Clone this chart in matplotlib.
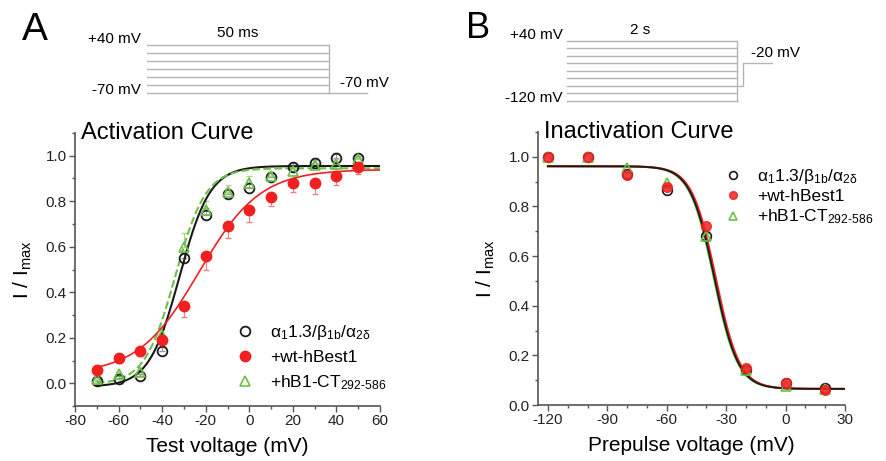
import numpy as np
import matplotlib
matplotlib.use("Agg")
import matplotlib.pyplot as plt
from matplotlib.ticker import MultipleLocator

plt.rcParams['font.family'] = ['Liberation Sans', 'DejaVu Sans']
plt.rcParams['mathtext.fontset'] = 'custom'
plt.rcParams['mathtext.rm'] = 'Liberation Sans'
plt.rcParams['mathtext.it'] = 'Liberation Sans:italic'
plt.rcParams['mathtext.bf'] = 'Liberation Sans:bold'
plt.rcParams['axes.unicode_minus'] = False

# ---- Activation data (panel A) ----
act_v = [-70, -60, -50, -40, -30, -20, -10, 0, 10, 20, 30, 40, 50]
act_ctrl = [0.01, 0.02, 0.03, 0.14, 0.55, 0.74, 0.83, 0.86, 0.905, 0.95, 0.97, 0.99, 0.99]
act_best = [0.06, 0.11, 0.14, 0.19, 0.34, 0.56, 0.69, 0.76, 0.82, 0.88, 0.88, 0.91, 0.95]
act_ct = [0.02, 0.04, 0.05, 0.21, 0.60, 0.76, 0.84, 0.88, 0.91, 0.935, 0.96, 0.965, 0.985]
act_ctrl_err = [0.01, 0.01, 0.01, 0.02, 0.03, 0.03, 0.02, 0.02, 0.02, 0.02, 0.02, 0.02, 0.01]
act_best_err = [0.01, 0.02, 0.02, 0.03, 0.05, 0.06, 0.05, 0.05, 0.04, 0.04, 0.05, 0.04, 0.03]
act_ct_err = [0.01, 0.01, 0.01, 0.03, 0.06, 0.04, 0.03, 0.03, 0.02, 0.02, 0.02, 0.02, 0.01]

# Boltzmann fit parameters: bottom, top, V1/2, slope
act_fit_ctrl = [-0.015, 0.955, -32.0, 7.0]
act_fit_best = [0.04, 0.94, -23.0, 14.0]
act_fit_ct = [-0.005, 0.945, -34.0, 7.0]

# ---- Inactivation data (panel B) ----
inact_v = [-120, -100, -80, -60, -40, -20, 0, 20]
inact_ctrl = [1.0, 1.0, 0.93, 0.865, 0.68, 0.14, 0.09, 0.07]
inact_best = [1.0, 1.0, 0.925, 0.88, 0.72, 0.15, 0.09, 0.06]
inact_ct = [1.0, 1.0, 0.955, 0.895, 0.68, 0.14, 0.075, 0.065]

inact_fit_ctrl = [0.065, 0.962, -36.0, 6.0]
inact_fit_best = [0.065, 0.962, -35.3, 6.0]
inact_fit_ct = [0.065, 0.962, -36.3, 6.0]

# ---- Voltage protocols (schematic) ----
protA_levels = [40, 22, 3, -15, -33, -52, -70]
protA_hold = -70
protA_dur = 50
protA_end = 60.4

protB_levels = [40, 20, 0, -20, -40, -60, -80, -100, -120]
protB_dur = 2.0
protB_test = -20
protB_step = 2.07
protB_end = 2.41

labels = [r'$\mathregular{\alpha_1}$1.3/$\mathregular{\beta_{1b}}$/$\mathregular{\alpha_{2\delta}}$',
          '+wt-hBest1',
          r'+hB1-CT$_{\mathregular{292‐586}}$']

BLACK = '#1a1a1a'
RED = '#f02020'
GREEN = '#6cc04a'
AXC = '#555555'
PROT = '#b5b5b5'


def act_curve(v, p):
    b, t, vh, k = p
    return b + (t - b) / (1 + np.exp((vh - v) / k))


def inact_curve(v, p):
    b, t, vh, k = p
    return b + (t - b) / (1 + np.exp((v - vh) / k))


def style_axes(ax):
    for s in ['top', 'right']:
        ax.spines[s].set_visible(False)
    for s in ['left', 'bottom']:
        ax.spines[s].set_color(AXC)
        ax.spines[s].set_linewidth(1.2)
    ax.tick_params(which='major', direction='out', length=4, width=1, color=AXC,
                   labelsize=11, labelcolor='#222222', pad=2)
    ax.tick_params(which='minor', direction='out', length=2.5, width=1, color=AXC)


W, H = 886, 461
fig = plt.figure(figsize=(W / 100, H / 100), dpi=100)

# ---------------- Panel A ----------------
axA = fig.add_axes([75 / W, 1 - 406 / H, 305 / W, 273 / H])
style_axes(axA)
vA = np.linspace(-70, 60, 300)
axA.plot(vA, act_curve(vA, act_fit_ctrl), color=BLACK, lw=1.5, zorder=3)
axA.plot(vA, act_curve(vA, act_fit_ct), color=GREEN, lw=1.5, ls='--', zorder=3)
axA.plot(vA, act_curve(vA, act_fit_best), color=RED, lw=1.2, zorder=3)

axA.errorbar(act_v, act_ctrl, yerr=[np.zeros(len(act_v)), act_ctrl_err], fmt='none',
             ecolor='#999999', elinewidth=0.8, capsize=2, zorder=2)
axA.errorbar(act_v, act_ct, yerr=[np.zeros(len(act_v)), act_ct_err], fmt='none',
             ecolor='#a8d890', elinewidth=0.8, capsize=2, zorder=2)
axA.errorbar(act_v, act_best, yerr=[act_best_err, np.zeros(len(act_v))], fmt='none',
             ecolor='#f08080', elinewidth=0.8, capsize=2, zorder=2)

axA.plot(act_v, act_ctrl, 'o', ls='none', mfc='none', mec=BLACK, mew=1.3, ms=7, zorder=4,
         label=labels[0])
axA.plot(act_v, act_best, 'o', ls='none', mfc=RED, mec=RED, ms=7.5, zorder=5, label=labels[1])
axA.plot(act_v, act_ct, '^', ls='none', mfc='none', mec=GREEN, mew=1.2, ms=7.5, zorder=4,
         label=labels[2])

axA.set_xlim(-80, 60)
axA.set_ylim(-0.1, 1.1)
axA.xaxis.set_major_locator(MultipleLocator(20))
axA.xaxis.set_minor_locator(MultipleLocator(10))
axA.yaxis.set_minor_locator(MultipleLocator(0.1))
axA.set_yticks([0, 0.2, 0.4, 0.6, 0.8, 1.0])
axA.set_yticklabels(['0.0', '0.2', '0.4', '0.6', '0.8', '1.0'])
axA.set_xlabel('Test voltage (mV)', fontsize=15, labelpad=6)
axA.set_ylabel(r'I / I$_{\mathregular{max}}$', fontsize=15, labelpad=8)
axA.text(0.02, 1.0, 'Activation Curve', transform=axA.transAxes, fontsize=17, va='center',
         ha='left')
axA.legend(loc='upper left', bbox_to_anchor=(0.502, 0.335), frameon=False, fontsize=12.5,
           handlelength=1.0, handletextpad=0.9, labelspacing=0.45, borderpad=0, numpoints=1)

# ---------------- Panel B ----------------
axB = fig.add_axes([538 / W, 1 - 405 / H, 307 / W, 273 / H])
style_axes(axB)
vB = np.linspace(-120, 30, 300)
axB.plot(vB, inact_curve(vB, inact_fit_ct), color=GREEN, lw=1.5, zorder=3)
axB.plot(vB, inact_curve(vB, inact_fit_best), color=RED, lw=1.5, zorder=3)
axB.plot(vB, inact_curve(vB, inact_fit_ctrl), color=BLACK, lw=1.3, zorder=3)

axB.plot(inact_v, inact_ctrl, 'o', ls='none', mfc='none', mec=BLACK, mew=1.2, ms=7, zorder=4,
         label=labels[0])
axB.plot(inact_v, inact_best, 'o', ls='none', mfc=RED, mec=RED, ms=7, alpha=0.85, zorder=5,
         label=labels[1])
axB.plot(inact_v, inact_ct, '^', ls='none', mfc='none', mec=GREEN, mew=1.2, ms=7, zorder=4,
         label=labels[2])

axB.set_xlim(-125, 30)
axB.set_ylim(0, 1.1)
axB.xaxis.set_minor_locator(MultipleLocator(10))
axB.set_xticks([-120, -90, -60, -30, 0, 30])
axB.set_yticks([0, 0.2, 0.4, 0.6, 0.8, 1.0])
axB.set_yticklabels(['0.0', '0.2', '0.4', '0.6', '0.8', '1.0'])
axB.yaxis.set_minor_locator(MultipleLocator(0.1))
axB.set_xlabel('Prepulse voltage (mV)', fontsize=15, labelpad=6)
axB.set_ylabel(r'I / I$_{\mathregular{max}}$', fontsize=15, labelpad=8)
axB.text(0.02, 1.0, 'Inactivation Curve', transform=axB.transAxes, fontsize=17, va='center',
         ha='left')
axB.legend(loc='upper left', bbox_to_anchor=(0.578, 0.905), frameon=False, fontsize=12.5,
           handlelength=1.0, handletextpad=0.9, labelspacing=0.2, borderpad=0, numpoints=1,
           markerscale=0.8)

# ---------------- Protocol A ----------------
pA = fig.add_axes([146.7 / W, 1 - 93.3 / H, (367 - 146.7) / W, (93.3 - 45) / H])
pA.axis('off')
pA.set_xlim(0, protA_end)
pA.set_ylim(min(protA_levels), max(protA_levels))
for lv in protA_levels:
    pA.plot([0, protA_dur], [lv, lv], color=PROT, lw=1, clip_on=False)
pA.plot([protA_dur, protA_dur], [min(protA_levels), max(protA_levels)], color=PROT, lw=1,
        clip_on=False)
pA.plot([protA_dur, protA_end], [protA_hold, protA_hold], color=PROT, lw=1, clip_on=False)
pA.text(-1.6, 53.7, '+40 mV', ha='right', va='center', fontsize=11)
pA.text(-1.6, -62.5, '-70 mV', ha='right', va='center', fontsize=11)
pA.text(25, 67, '50 ms', ha='center', va='center', fontsize=11)
pA.text(53, -46.5, '-70 mV', ha='left', va='center', fontsize=11)

# ---------------- Protocol B ----------------
pB = fig.add_axes([566.7 / W, 1 - 101 / H, (771.7 - 566.7) / W, (101 - 40.7) / H])
pB.axis('off')
pB.set_xlim(0, protB_end)
pB.set_ylim(min(protB_levels), max(protB_levels))
for lv in protB_levels:
    pB.plot([0, protB_dur], [lv, lv], color=PROT, lw=1, clip_on=False)
pB.plot([protB_dur, protB_dur], [min(protB_levels), max(protB_levels)], color=PROT, lw=1,
        clip_on=False)
pB.plot([protB_dur, protB_step, protB_step, protB_end],
        [-80, -80, protB_test, protB_test], color=PROT, lw=1, clip_on=False)
pB.text(-0.05, 55, '+40 mV', ha='right', va='center', fontsize=11)
pB.text(-0.05, -112, '-120 mV', ha='right', va='center', fontsize=11)
pB.text(0.86, 68, '2 s', ha='center', va='center', fontsize=11)
pB.text(2.17, 7.4, '-20 mV', ha='left', va='center', fontsize=11)

# panel letters
fig.text(22 / W, 1 - 40 / H, 'A', fontsize=28, ha='left', va='baseline')
fig.text(466 / W, 1 - 38 / H, 'B', fontsize=26, ha='left', va='baseline')

fig.savefig('out.png', dpi=100)
